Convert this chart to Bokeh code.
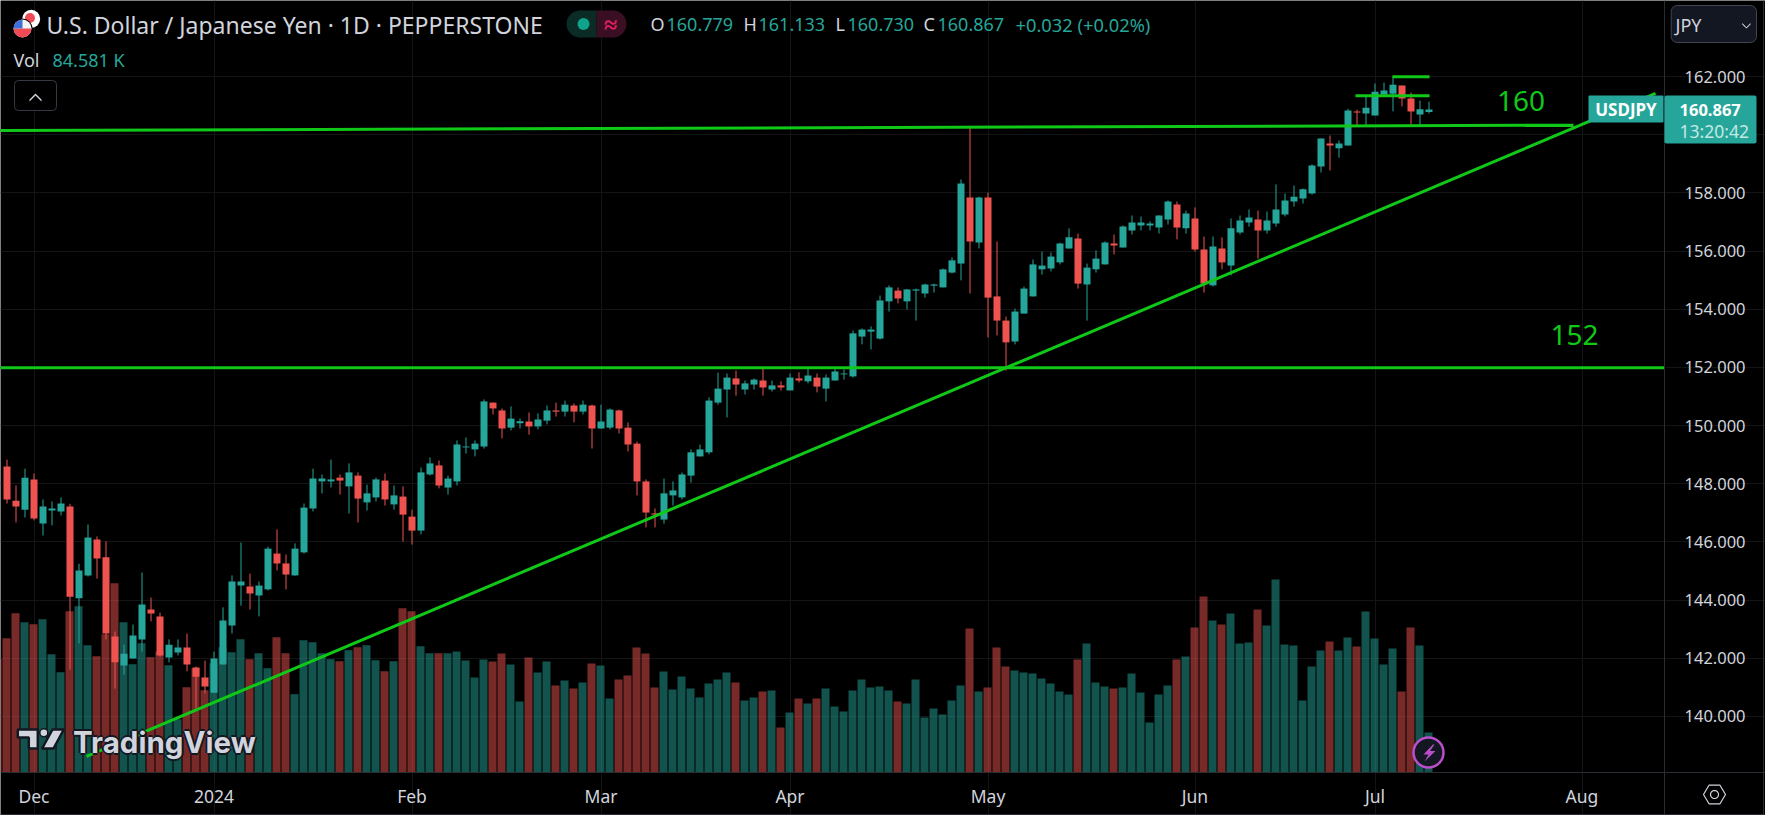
import numpy as np
from bokeh.embed import file_html
from bokeh.resources import INLINE
from bokeh.plotting import figure
from bokeh.models import (BoxAnnotation, ColumnDataSource, FixedTicker, Label,
                          NumeralTickFormatter, PolyAnnotation, Range1d)

# ---------- data ----------
opens = [148.59,147.42,147.11,148.15,146.63,147.08,147.05,147.22,144.06,144.85,
         146.08,145.47,142.75,141.75,141.99,142.65,143.68,143.44,142.03,142.20,
         142.37,141.68,141.34,140.82,141.79,143.13,144.50,144.47,144.16,144.37,
         145.60,145.26,144.85,145.64,147.15,148.08,148.08,148.21,147.91,148.28,
         147.36,147.53,148.11,147.29,147.56,146.87,146.39,148.32,148.63,147.87,
         148.08,149.25,149.18,149.28,150.79,150.52,149.93,150.08,150.14,149.97,
         150.17,150.52,150.48,150.69,150.48,150.69,149.90,149.93,150.52,149.93,
         149.38,148.08,146.98,146.77,147.60,147.53,148.28,148.94,149.08,150.79,
         151.24,151.62,151.24,151.41,151.55,151.24,151.38,151.21,151.62,151.52,
         151.65,151.27,151.55,151.76,151.69,153.06,153.23,152.99,154.27,154.64,
         154.27,154.64,154.54,154.81,154.75,155.26,155.57,157.84,156.29,157.84,
         154.44,153.61,152.89,153.85,154.44,155.37,155.40,155.61,156.09,156.43,
         154.85,155.37,155.54,156.26,156.12,156.71,156.88,156.88,156.81,157.08,
         157.60,156.78,157.12,156.05,154.82,156.09,155.50,156.64,156.98,157.08,
         156.71,156.95,157.26,157.70,157.81,157.98,158.91,159.70,159.53,159.63,
         160.80,160.73,160.66,161.38,161.41,161.69,161.24,160.69,160.779]
closes = [147.46,147.22,148.21,146.81,147.22,147.15,147.32,144.12,145.02,146.15,
          145.43,142.85,141.86,142.16,142.78,143.85,143.54,142.10,142.47,142.37,
          141.79,141.37,141.03,141.99,143.30,144.64,144.64,144.23,144.50,145.77,
          145.26,144.88,145.77,147.18,148.18,148.18,148.15,148.11,148.39,147.49,
          147.67,148.15,147.46,147.60,146.94,146.39,148.39,148.70,147.94,148.18,
          149.35,149.28,149.38,150.83,150.59,149.90,150.24,150.15,149.97,150.21,
          150.52,150.48,150.72,150.48,150.72,149.90,150.14,150.55,149.90,149.35,
          148.08,147.01,146.94,147.67,147.77,148.32,149.08,149.18,150.86,151.27,
          151.65,151.41,151.45,151.58,151.31,151.38,151.31,151.65,151.55,151.72,
          151.34,151.65,151.86,151.79,153.17,153.30,153.30,154.30,154.75,154.37,
          154.68,154.68,154.85,154.85,155.37,155.68,158.32,156.33,157.84,154.40,
          153.61,152.86,153.92,154.71,155.54,155.50,155.81,156.26,156.47,154.88,
          155.43,155.74,156.29,156.19,156.84,156.98,156.98,156.95,157.22,157.70,
          156.81,157.29,156.05,154.88,156.16,155.61,156.78,157.05,157.15,156.71,
          157.05,157.43,157.74,157.87,158.12,158.94,159.87,159.63,159.70,160.83,
          160.76,160.93,161.48,161.52,161.72,161.24,160.80,160.87,160.867]
highs = [148.83,147.94,148.52,148.35,147.46,147.39,147.53,147.31,145.25,146.60,
         146.19,146.02,142.92,142.47,143.16,144.95,144.09,143.57,142.65,142.65,
         142.85,141.72,141.92,142.23,143.75,144.85,145.98,144.91,144.64,145.84,
         146.43,145.57,145.95,147.32,148.52,148.32,148.83,148.32,148.70,148.39,
         147.97,148.21,148.35,147.94,147.91,147.11,148.56,148.90,148.80,148.28,
         149.49,149.59,149.49,150.90,150.79,150.59,150.66,150.24,150.45,150.42,
         150.69,150.79,150.86,150.76,150.86,150.72,150.72,150.59,150.55,150.11,
         149.45,148.15,147.15,148.18,148.08,148.39,149.18,149.35,150.97,151.82,
         151.79,151.89,151.55,151.62,151.96,151.55,151.52,151.79,151.83,151.96,
         151.79,151.76,151.96,151.93,153.27,153.34,153.41,154.47,154.82,154.75,
         154.70,154.71,154.88,154.88,155.40,155.78,158.46,160.24,157.87,158.01,
         156.33,153.75,154.02,154.78,155.71,155.98,155.95,156.29,156.78,156.60,
         155.57,156.02,156.33,156.57,156.88,157.22,157.19,157.02,157.22,157.74,
         157.70,157.39,157.50,156.50,156.50,156.47,157.12,157.22,157.43,157.39,
         157.36,158.29,157.98,158.25,158.15,158.98,159.87,159.97,159.80,160.89,
         160.86,161.31,161.76,161.79,162.00,161.69,161.45,161.17,161.133]
lows = [147.32,146.67,146.84,146.74,146.22,146.57,146.91,141.61,142.51,144.81,
        144.74,142.65,140.96,141.44,141.99,142.23,143.27,142.06,141.86,142.10,
        141.55,140.27,140.79,140.82,141.79,142.85,143.81,143.68,143.44,144.33,
        145.02,144.37,144.84,145.60,147.05,147.67,147.87,147.63,146.98,146.67,
        147.08,147.39,147.25,147.11,146.01,145.91,146.26,148.28,147.84,147.63,
        147.94,149.04,148.94,149.21,150.38,149.56,149.83,149.90,149.69,149.87,
        150.04,150.31,150.31,150.11,150.38,149.21,149.90,149.87,149.73,149.11,
        147.60,146.50,146.50,146.63,147.25,147.46,148.04,148.94,149.01,150.72,
        150.28,151.03,151.07,151.24,151.03,151.17,151.21,151.21,151.48,151.45,
        151.14,150.83,151.55,151.58,151.65,152.79,152.62,152.96,153.92,154.20,
        153.99,153.61,154.40,154.57,154.75,155.23,154.99,154.54,156.09,153.03,
        153.10,151.89,152.79,153.85,154.44,155.19,155.30,155.54,156.09,154.71,
        153.61,155.26,155.54,155.88,156.12,156.57,156.71,156.71,156.60,156.91,
        156.40,156.60,155.98,154.57,154.78,155.37,155.16,156.57,156.84,155.74,
        156.60,156.84,157.19,157.53,157.63,157.94,158.70,158.77,159.21,159.63,
        160.32,160.32,160.66,161.35,160.80,160.97,160.35,160.32,160.73]
volumes_k = [284.0,336.8,317.8,313.6,324.2,250.2,212.1,341.1,351.6,269.2,
             245.9,292.5,400.3,317.8,229.0,273.4,243.8,256.5,226.9,112.8,
             180.4,220.6,174.1,231.1,265.0,254.4,281.9,239.6,252.3,220.6,
             286.1,252.3,165.6,279.8,275.5,252.3,239.6,235.4,258.6,265.0,
             269.2,237.5,214.2,235.4,347.4,341.1,267.1,252.3,252.3,252.3,
             255.8,236.8,200.8,238.9,234.7,251.6,228.3,150.1,243.1,211.4,
             234.7,183.9,194.5,177.6,190.3,230.4,226.2,156.4,196.6,205.1,
             264.3,251.6,179.7,213.5,175.5,203.0,177.6,158.6,188.2,196.6,
             211.4,190.3,152.2,158.6,171.2,173.4,95.1,126.8,156.4,145.9,
             156.4,177.6,139.5,129.0,173.4,196.6,179.7,181.8,173.4,150.1,
             145.9,196.6,116.3,135.3,122.6,152.2,183.9,304.4,171.2,179.7,
             264.3,224.1,215.6,211.4,209.3,198.7,188.2,171.2,164.9,238.9,
             272.7,190.3,181.8,177.6,179.7,209.3,169.1,105.7,164.9,183.9,
             238.9,245.2,306.5,372.1,321.3,312.9,336.1,272.7,274.8,344.6,
             310.8,408.0,270.6,268.5,152.2,224.1,257.9,276.9,257.9,285.4,
             266.4,340.4,283.3,228.3,262.2,171.2,306.5,268.5,84.581]
month_ticks = [3, 23, 45, 66, 87, 109, 132, 152, 175]
month_labels = ["Dec", "2024", "Feb", "Mar", "Apr", "May", "Jun", "Jul", "Aug"]
price_ticks = [140, 142, 144, 146, 148, 150, 152, 154, 156, 158, 160, 162]
res_160_x, res_160_y = [-0.72, 174.06], [160.144, 160.326]
sup_152_x, sup_152_y = [-0.72, 184.17], [151.986, 151.986]
trend_x, trend_y = [8.83, 183.17], [138.63, 161.42]
stub_a_x, stub_a_y = [153.94, 158.06], [161.99, 161.99]
stub_b_x, stub_b_y = [149.83, 158.06], [161.34, 161.34]

# ---------- colours / layout helpers ----------
UP, DOWN, GREEN = "#26a69a", "#ef5350", "#10c818"
TXT, GRID, LINE = "#d1d4dc", "#131416", "#2a2c33"
FONT = "Noto Sans"
W, H = 1765, 815

def X(px):   # page pixel -> bar index
    return (np.asarray(px, dtype=float) - 6.5) / 9.0

def Y(py):   # page pixel -> price
    return 162 - (np.asarray(py, dtype=float) - 76) / 29.09

n = len(opens)
idx = np.arange(n)
is_up = [c >= o for o, c in zip(opens, closes)]
src = ColumnDataSource(dict(
    x=idx, vx=idx - 0.5 / 9, o=opens, h=highs, l=lows, c=closes, v=volumes_k,
    top=[max(a, b) for a, b in zip(opens, closes)],
    bot=[min(a, b) for a, b in zip(opens, closes)],
    col=[UP if u else DOWN for u in is_up],
))

# the frame spans the whole page; the axes fold their labels back over it
p = figure(width=W, height=H, output_backend="svg", toolbar_location=None,
           x_range=Range1d(float(X(0)), float(X(W))),
           y_range=Range1d(float(Y(H)), float(Y(0))),
           y_axis_location="right", x_axis_location="below",
           background_fill_color="#000000", border_fill_color="#000000",
           min_border_left=0, min_border_top=0, min_border_right=0, min_border_bottom=0)
p.outline_line_color = None
p.extra_y_ranges = {"vol": Range1d(-(H - 772) * 2.114, 772 * 2.114)}

for ax in (p.xaxis[0], p.yaxis[0]):
    ax.major_tick_line_color = None
    ax.minor_tick_line_color = None
    ax.axis_line_color = None
    ax.major_label_text_color = TXT
    ax.major_label_text_font = FONT
p.xaxis[0].ticker = FixedTicker(ticks=month_ticks)
p.xaxis[0].major_label_overrides = dict(zip(month_ticks, month_labels))
p.xaxis[0].major_label_text_font_size = "17.5px"
p.xaxis[0].major_label_standoff = -38
p.yaxis[0].ticker = FixedTicker(ticks=price_ticks)
p.yaxis[0].formatter = NumeralTickFormatter(format="0.000")
p.yaxis[0].major_label_text_font_size = "16.5px"
p.yaxis[0].major_label_standoff = -87
p.xgrid.ticker = FixedTicker(ticks=month_ticks)
p.ygrid.ticker = FixedTicker(ticks=price_ticks)
p.xgrid.grid_line_color = GRID
p.ygrid.grid_line_color = GRID
p.xgrid.bounds = (float(Y(772)), float(Y(0)))
p.ygrid.bounds = (float(X(0)), float(X(1664)))

# volume, then candles
p.vbar(x="vx", top="v", bottom=0, width=8 / 9, source=src, y_range_name="vol",
       fill_color="col", fill_alpha=0.5, line_color=None)
p.vbar(x=[-1 - 0.5 / 9], top=[241.7], bottom=0, width=8 / 9, y_range_name="vol",
       fill_color=DOWN, fill_alpha=0.5, line_color=None)
p.segment(x0="x", x1="x", y0="l", y1="h", source=src, line_color="col", line_width=1)
p.vbar(x="x", top="top", bottom="bot", width=7 / 9, source=src, fill_color="col", line_color=None)

# drawn lines
for xs, ys in ((res_160_x, res_160_y), (sup_152_x, sup_152_y), (trend_x, trend_y),
               (stub_a_x, stub_a_y), (stub_b_x, stub_b_y)):
    p.line(xs, ys, line_color=GREEN, line_width=3)


def label(text, px, py, size, color=TXT, align="left", font=FONT, style="normal"):
    p.add_layout(Label(x=float(X(px)), y=float(Y(py)), text=text, text_font=font,
                       text_font_size=f"{size}px", text_color=color, text_align=align,
                       text_baseline="middle", text_font_style=style))


def box(l, r, t, b, fill, line=None, radius=0, alpha=1.0):
    p.add_layout(BoxAnnotation(left=float(X(l)), right=float(X(r)), top=float(Y(t)), bottom=float(Y(b)),
                               fill_color=fill, fill_alpha=alpha, line_color=line, line_width=1,
                               line_alpha=1.0, border_radius=radius))


def poly(pts, fill, line=None, lw=1.0, fa=1.0):
    xs, ys = zip(*pts)
    p.add_layout(PolyAnnotation(xs=[float(v) for v in X(xs)], ys=[float(v) for v in Y(ys)],
                                fill_color=fill, fill_alpha=fa, line_color=line, line_width=lw,
                                line_alpha=1.0))


# panel separators
box(1663.5, 1664.5, 0, H, LINE)
box(0, W, 771.5, 772.5, LINE)
box(1762.5, 1763.5, 0, H, LINE)
box(0, W, 813.5, 814.5, LINE)

# TradingView logo
DARK = "#131722"
for dx, dy in ((-2, 0), (2, 0), (0, -2), (0, 2)):
    label("TradingView", 72.6 + dx, 741 + dy, 29.5, DARK, font="Inter", style="bold")
label("TradingView", 72.6, 741, 29.5, TXT, font="Inter", style="bold")
poly([(17.3, 729), (37.3, 729), (37.3, 748), (28.3, 748), (28.3, 737), (17.3, 737)], TXT, DARK, 2.5)
poly([(63.3, 729), (52, 729), (41.6, 748), (53, 748)], TXT, DARK, 2.5)
p.scatter([float(X(43.3))], [float(Y(732.3))], size=8, fill_color=TXT, line_color=DARK, line_width=1.5)

# lightning badge
p.scatter([float(X(1428))], [float(Y(752))], size=30, fill_color=DARK, line_color="#ba4fcb", line_width=2.5)
poly([(1432.5, 744), (1423, 754), (1428, 754), (1424, 761), (1435, 750.5), (1429.5, 750.5), (1434, 744)], "#ba4fcb")

# flags
p.scatter([float(X(30.7))], [float(Y(18.3))], size=18, fill_color="#ffffff", line_color=None)
p.scatter([float(X(29.5))], [float(Y(17.5))], size=10, fill_color="#ef4a55", line_color=None)
p.scatter([float(X(22))], [float(Y(28))], size=20, fill_color="#000000", line_color=None)
p.scatter([float(X(22))], [float(Y(28))], size=18, fill_color="#f4f4f4", line_color=None)
p.wedge([float(X(22))], [float(Y(28))], radius=1.0, start_angle=np.pi * 1.0, end_angle=np.pi * 2.0,
        fill_color="#ef4a55", line_color=None)
p.wedge([float(X(22))], [float(Y(28))], radius=1.0, start_angle=np.pi * 0.5, end_angle=np.pi * 1.0,
        fill_color="#3f6fd8", line_color=None)

# status pill
p.line([float(X(579.5)), float(X(596))], [float(Y(23.5))] * 2, line_color="#0b2b27", line_width=27)
p.line([float(X(596)), float(X(612.5))], [float(Y(23.5))] * 2, line_color="#3a0f24", line_width=27)
p.scatter([float(X(579.5))], [float(Y(23.5))], size=27, fill_color="#0b2b27", line_color=None)
p.scatter([float(X(612.5))], [float(Y(23.5))], size=27, fill_color="#3a0f24", line_color=None)
p.scatter([float(X(583))], [float(Y(23.5))], size=12, fill_color="#0fa38b", line_color=None)
label("\u2248", 610, 23, 24, "#e91e63", align="center", style="bold")

# header text
label("U.S. Dollar / Japanese Yen \u00b7 1D \u00b7 PEPPERSTONE", 46, 24, 23)
label("Vol", 13, 59.5, 18)
label("84.581 K", 52, 59.5, 18, UP)
for ltr, lx, val, vx in (("O", 650, "160.779", 666), ("H", 743, "161.133", 758),
                         ("L", 835, "160.730", 847), ("C", 923, "160.867", 937)):
    label(ltr, lx, 23.5, 18)
    label(val, vx, 23.5, 18, UP)
label("+0.032 (+0.02%)", 1015, 23.5, 18.3, UP)

# collapse button
box(14, 56, 80, 110, "#000000", "#363a45", 4)
poly([(29, 99), (35, 93), (41, 99), (41, 101), (35, 95), (29, 101)], TXT)

# green labels
label("160", 1520.5, 100, 28, GREEN, align="center")
label("152", 1574, 334, 28, GREEN, align="center")

# price badges
box(1588, 1663, 95, 122, UP, radius=1)
label("USDJPY", 1625.5, 109, 17, "#ffffff", align="center", style="bold")
box(1664, 1756, 95, 143, UP, radius=2)
label("160.867", 1679, 109, 16.5, "#ffffff", style="bold")
label("13:20:42", 1679, 130, 17.5, "#c4e8e4")

# JPY selector
box(1670.7, 1756, 5, 42, "#131722", "#434651", 6)
label("JPY", 1675, 24, 18)
poly([(1741.7, 22.5), (1746, 26.7), (1750, 22.5), (1750, 24), (1746, 28), (1741.7, 24)], TXT)

# settings hexagon
poly([(1703, 794), (1708.5, 784.7), (1719.5, 784.7), (1725, 794), (1719.5, 803.3), (1708.5, 803.3)],
     None, TXT, 1.2)
t = np.linspace(0, 2 * np.pi, 24, endpoint=False)
poly(list(zip(1714 + 4 * np.cos(t), 794 + 4 * np.sin(t))), None, TXT, 1.2)

open("out.html", "w").write(file_html(p, INLINE))
